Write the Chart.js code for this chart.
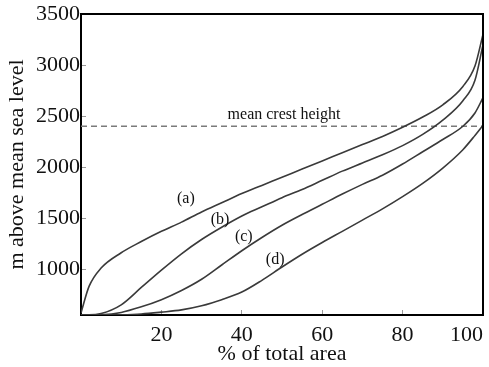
<!DOCTYPE html>
<html>
<head>
<meta charset="utf-8">
<script src="https://cdn.jsdelivr.net/npm/chart.js@4/dist/chart.umd.min.js"></script>
<style>
  html, body { margin: 0; padding: 0; background: #fff; }
  #wrap { position: relative; width: 489px; height: 367px; }
</style>
</head>
<body>
<div id="wrap"><canvas id="hypso"></canvas></div>
<script>
// hypsometric curves: share of area (%) lying above a given height (m)
var areaPct = [0, 2, 5, 10, 15, 20, 25, 30, 35, 40, 45, 50, 55, 60, 65, 70, 75, 80, 85, 90, 95, 98, 100];
var curveA  = [570, 830, 1010, 1160, 1270, 1370, 1460, 1560, 1650, 1740, 1820, 1900, 1980, 2060, 2140, 2220, 2300, 2390, 2490, 2610, 2790, 2990, 3300];
var curveB  = [552, 552, 565, 650, 820, 990, 1150, 1290, 1410, 1520, 1610, 1700, 1780, 1870, 1960, 2040, 2120, 2210, 2320, 2460, 2650, 2850, 3200];
var curveC  = [550, 550, 552, 575, 630, 700, 790, 900, 1040, 1180, 1310, 1430, 1535, 1635, 1735, 1830, 1920, 2030, 2150, 2270, 2400, 2530, 2680];
var curveD  = [550, 550, 550, 552, 560, 578, 600, 640, 700, 775, 890, 1020, 1145, 1260, 1370, 1480, 1590, 1710, 1840, 1990, 2170, 2310, 2410];
var crestHeight = 2400;

var xTicks = [20, 40, 60, 80, 100];
var yTicks = [1000, 1500, 2000, 2500, 3000, 3500];

// text annotations, placed in data coordinates
var notes = [
  { text: '(a)', x: 26.1, y: 1686 },
  { text: '(b)', x: 34.6, y: 1480 },
  { text: '(c)', x: 40.5, y: 1314 },
  { text: '(d)', x: 48.3, y: 1088 },
  { text: 'mean crest height', x: 50.5, y: 2510 }
];

var SERIF = '"Liberation Serif", "DejaVu Serif", serif';

function pts(ys) {
  return areaPct.map(function (x, i) { return { x: x, y: ys[i] }; });
}

function curve(ys) {
  return {
    data: pts(ys),
    borderColor: '#3a3a3a',
    borderWidth: 1.6,
    pointRadius: 0,
    cubicInterpolationMode: 'monotone',
    fill: false
  };
}

// box round the plot and the text notes
var extras = {
  id: 'extras',
  afterDatasetsDraw: function (chart) {
    var c = chart.ctx, a = chart.chartArea;
    var xs = chart.scales.x, ys = chart.scales.y;
    c.save();
    c.strokeStyle = '#000';
    c.lineWidth = 2;
    c.beginPath();
    c.moveTo(a.left, a.top);
    c.lineTo(a.right, a.top);
    c.lineTo(a.right, a.bottom);
    c.stroke();
    c.fillStyle = '#111';
    c.font = '16px ' + SERIF;
    c.textAlign = 'center';
    c.textBaseline = 'middle';
    notes.forEach(function (n) {
      c.fillText(n.text, xs.getPixelForValue(n.x), ys.getPixelForValue(n.y));
    });
    c.restore();
  }
};

new Chart(document.getElementById('hypso'), {
  type: 'line',
  data: {
    datasets: [
      curve(curveA),
      curve(curveB),
      curve(curveC),
      curve(curveD),
      {
        data: [{ x: 0, y: crestHeight }, { x: 100, y: crestHeight }],
        borderColor: '#7a7a7a',
        borderWidth: 1.5,
        borderDash: [6, 4],
        pointRadius: 0,
        fill: false
      }
    ]
  },
  options: {
    responsive: true,
    maintainAspectRatio: false,
    animation: false,
    layout: { padding: { top: 14, right: 6, left: 0, bottom: 0 } },
    plugins: { legend: { display: false }, tooltip: { enabled: false } },
    scales: {
      x: {
        type: 'linear',
        min: 0,
        max: 100,
        afterBuildTicks: function (s) {
          s.ticks = [{ value: 0 }].concat(xTicks.map(function (v) { return { value: v }; }));
        },
        afterFit: function (s) {
          s.height = 52;
          s.paddingLeft = 0;
          s.paddingRight = 0;
        },
        ticks: {
          align: 'inner',
          padding: 12,
          color: '#111',
          font: { family: SERIF, size: 22 },
          callback: function (v) { return v === 0 ? '' : String(v); }
        },
        grid: { drawOnChartArea: false, tickLength: -5, color: '#999' },
        border: { color: '#000', width: 2 },
        title: {
          display: true,
          text: '% of total area',
          color: '#111',
          font: { family: SERIF, size: 22 },
          padding: { top: 0, bottom: 0 }
        }
      },
      y: {
        type: 'linear',
        min: 550,
        max: 3500,
        afterBuildTicks: function (s) {
          s.ticks = yTicks.map(function (v) { return { value: v }; });
        },
        afterFit: function (s) {
          s.width = 81;
          s.paddingTop = 0;
          s.paddingBottom = 0;
        },
        ticks: {
          padding: 6,
          color: '#111',
          font: { family: SERIF, size: 22 },
          callback: function (v) { return String(v); }
        },
        grid: { drawOnChartArea: false, tickLength: -5, color: '#999' },
        border: { color: '#000', width: 2 },
        title: {
          display: true,
          text: 'm above mean sea level',
          color: '#111',
          font: { family: SERIF, size: 22 },
          padding: { top: 4, bottom: 0 }
        }
      }
    }
  },
  plugins: [extras]
});
</script>
</body>
</html>
